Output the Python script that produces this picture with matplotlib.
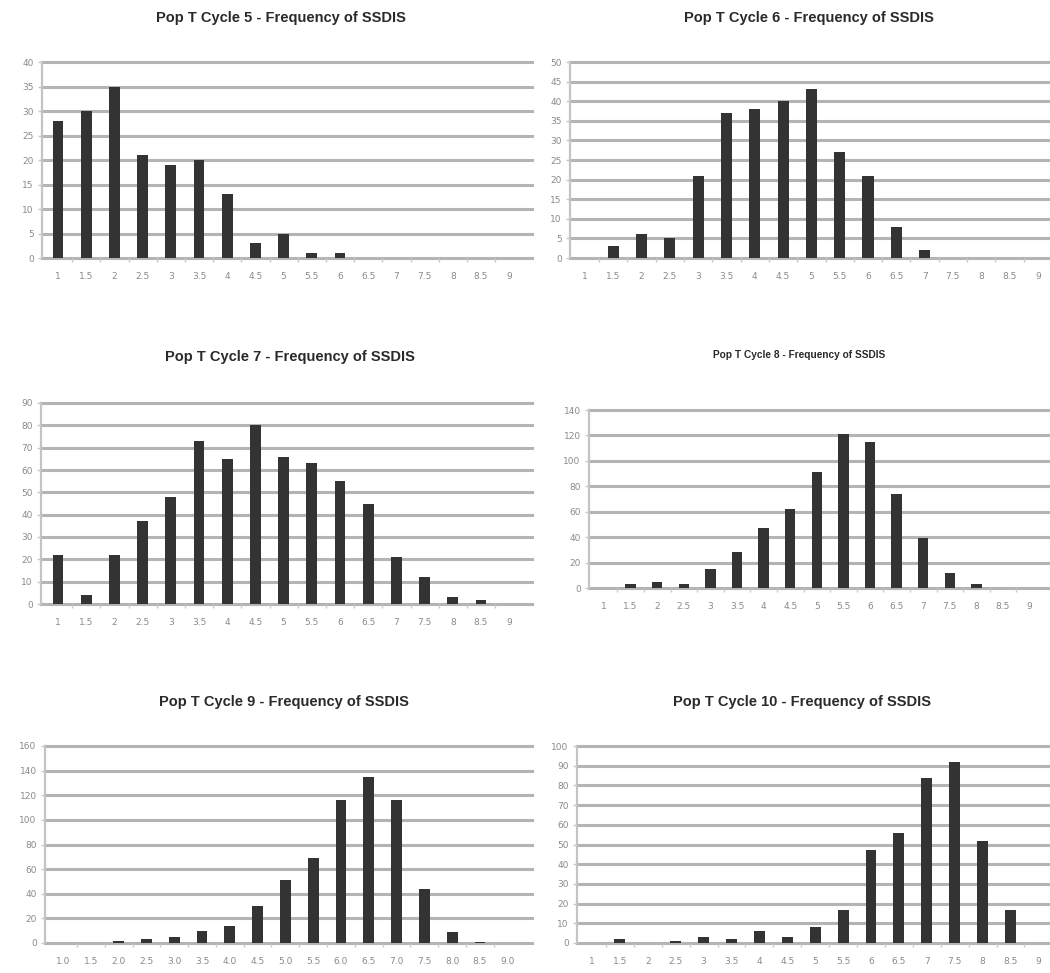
import matplotlib
matplotlib.use("Agg")
import matplotlib.pyplot as plt
import numpy as np

# SSDIS categories (shared by all six charts)
cats = ["1", "1.5", "2", "2.5", "3", "3.5", "4", "4.5", "5", "5.5",
        "6", "6.5", "7", "7.5", "8", "8.5", "9"]
cats_dec = ["1.0", "1.5", "2.0", "2.5", "3.0", "3.5", "4.0", "4.5", "5.0", "5.5",
            "6.0", "6.5", "7.0", "7.5", "8.0", "8.5", "9.0"]

cycle5 = [28, 30, 35, 21, 19, 20, 13, 3, 5, 1, 1, 0, 0, 0, 0, 0, 0]
cycle6 = [0, 3, 6, 5, 21, 37, 38, 40, 43, 27, 21, 8, 2, 0, 0, 0, 0]
cycle7 = [22, 4, 22, 37, 48, 73, 65, 80, 66, 63, 55, 45, 21, 12, 3, 2, 0]
cycle8 = [0, 3, 5, 3, 15, 28, 47, 62, 91, 121, 115, 74, 39, 12, 3, 0, 0]
cycle9 = [0, 0, 2, 3, 5, 10, 14, 30, 51, 69, 116, 135, 116, 44, 9, 1, 0]
cycle10 = [0, 2, 0, 1, 3, 2, 6, 3, 8, 17, 47, 56, 84, 92, 52, 17, 0]

titles = ["Pop T Cycle 5 - Frequency of SSDIS", "Pop T Cycle 6 - Frequency of SSDIS",
          "Pop T Cycle 7 - Frequency of SSDIS", "Pop T Cycle 8 - Frequency of SSDIS",
          "Pop T Cycle 9 - Frequency of SSDIS", "Pop T Cycle 10 - Frequency of SSDIS"]

W, H = 1050, 973
fig = plt.figure(figsize=(W / 100, H / 100), dpi=100)
fig.patch.set_facecolor("white")

# pixel layout: axis x, first bar centre, band, plot top, plot bottom, right edge,
# ymax, ystep, title x, title y, title size
charts = [
    (cycle5, cats, 42, 58, 28.2, 62, 258, 532, 40, 5, 281, 18, 10.5),
    (cycle6, cats, 570, 585, 28.3, 62, 258, 1062, 50, 5, 809, 18, 10.5),
    (cycle7, cats, 41, 58, 28.2, 403, 604, 532, 90, 10, 290, 357, 10.5),
    (cycle8, cats, 589, 604, 26.6, 410, 588, 1062, 140, 20, 799, 355, 7.3),
    (cycle9, cats_dec, 45, 63, 27.8, 746, 943, 532, 160, 20, 284, 702, 10.5),
    (cycle10, cats, 577, 592, 27.9, 746, 943, 1062, 100, 10, 802, 702, 10.5),
]

grid_c = "#b4b4b4"
text_c = "#8a8a8a"

for title, (vals, labels, ax_x, c0, band, top, bot, right, ymax, ystep, tx, ty, tsz) in zip(titles, charts):
    ax = fig.add_axes([ax_x / W, 1 - bot / H, (right - ax_x) / W, (bot - top) / H])
    x = np.arange(len(vals))
    ax.set_xlim(-(c0 - ax_x) / band, (right - c0) / band)
    ax.set_ylim(0, ymax)
    yt = np.arange(0, ymax + ystep, ystep)
    ax.set_yticks(yt)
    ax.set_yticklabels([str(v) for v in yt])
    for v in yt:
        ax.axhline(v, color=grid_c, lw=2.2, zorder=1, clip_on=False)
    ax.bar(x, vals, width=0.39, color="#333333", zorder=3)
    ax.set_xticks(x)
    ax.set_xticklabels(labels)
    ax.set_xticks(x[:-1] + 0.5, minor=True)
    ax.tick_params(axis="x", which="major", length=0, pad=10, labelsize=6.5, labelcolor=text_c)
    ax.tick_params(axis="x", which="minor", length=3, color="#c8c8c8", width=1)
    ax.tick_params(axis="y", length=3, color="#c8c8c8", width=1, pad=3,
                   labelsize=6.5, labelcolor=text_c)
    for s in ["top", "right", "bottom"]:
        ax.spines[s].set_visible(False)
    ax.spines["left"].set_color("#c4c4c4")
    ax.spines["left"].set_linewidth(1.6)
    ax.set_facecolor("none")
    fig.text(tx / W, 1 - ty / H, title, ha="center", va="center", fontsize=tsz,
             fontweight="bold", family="Liberation Sans", color="#2a2a2a")

fig.savefig("out.png", dpi=100)
